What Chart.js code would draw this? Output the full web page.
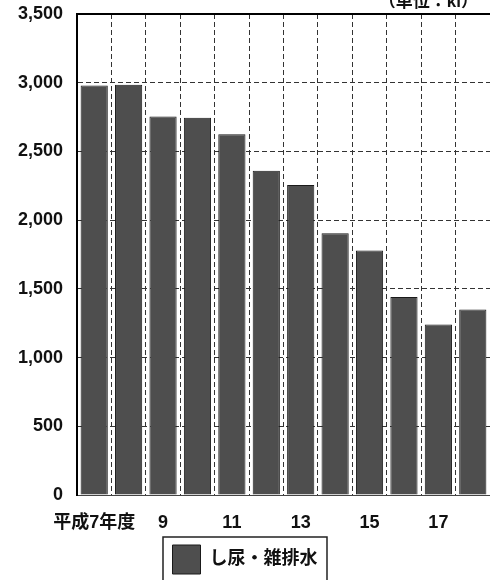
<!DOCTYPE html>
<html>
<head>
<meta charset="utf-8">
<script src="https://cdn.jsdelivr.net/npm/chart.js@4/dist/chart.umd.min.js"></script>
<style>
  html, body { margin: 0; padding: 0; background: #fff; overflow: hidden; }
  #wrap { width: 490px; height: 580px; }
</style>
</head>
<body>
<div id="wrap"><canvas id="myChart" width="490" height="580"></canvas></div>
<script>
// data
var years = ['平成7年度', '8', '9', '10', '11', '12', '13', '14', '15', '16', '17', '18'];
var volumes = [2980, 2985, 2755, 2745, 2625, 2360, 2255, 1905, 1780, 1440, 1240, 1350];
var seriesName = 'し尿・雑排水';
var unitLabel = '（単位：kl）';

var fontFamily = "'Liberation Sans', 'Noto Sans CJK JP', sans-serif";
var barColor = '#4e4e4e';

// frame line on top, unit text and a box round the legend
var extras = {
    id: 'extras',
    afterDraw: function(chart) {
        var c = chart.ctx, a = chart.chartArea;
        c.save();
        c.strokeStyle = '#000';
        c.lineWidth = 2;
        c.beginPath();
        c.moveTo(a.left, a.top);
        c.lineTo(chart.width, a.top);
        c.stroke();

        c.fillStyle = '#111';
        c.font = 'bold 17px ' + fontFamily;
        c.textAlign = 'right';
        c.textBaseline = 'alphabetic';
        c.fillText(unitLabel, 478, 7);

        var hb = chart.legend.legendHitBoxes[0];
        if (hb) {
            c.strokeStyle = '#222';
            c.lineWidth = 1.5;
            c.strokeRect(hb.left - 9.5, hb.top - 8, hb.width + 19, hb.height + 30);
        }
        c.restore();
    }
};

var ctx = document.getElementById('myChart').getContext('2d');
var myChart = new Chart(ctx, {
    type: 'bar',
    data: {
        labels: years,
        datasets: [{
            label: seriesName,
            data: volumes,
            backgroundColor: barColor,
            borderColor: '#1a1a1a',
            borderWidth: 1,
            barPercentage: 0.79,
            categoryPercentage: 1
        }]
    },
    options: {
        responsive: false,
        animation: false,
        layout: { padding: { top: 14, right: 0, bottom: -4, left: 0 } },
        plugins: {
            tooltip: { enabled: false },
            legend: {
                position: 'bottom',
                labels: {
                    boxWidth: 28,
                    boxHeight: 29,
                    padding: 8,
                    color: '#111',
                    font: { family: fontFamily, size: 18, weight: 'bold' }
                }
            }
        },
        scales: {
            x: {
                afterFit: function(scale) { scale.height = 42; },
                grid: {
                    color: '#333',
                    lineWidth: 1,
                    offset: true,
                    drawTicks: false
                },
                border: { display: true, color: '#444', width: 1, dash: [5, 3] },
                ticks: {
                    autoSkip: false,
                    maxRotation: 0,
                    padding: 17,
                    color: '#111',
                    font: { family: fontFamily, size: 18, weight: 'bold' },
                    callback: function(v, i) { return i % 2 === 0 ? years[i] : ''; }
                }
            },
            y: {
                min: 0,
                max: 3500,
                afterFit: function(scale) {
                    scale.width = 77;
                    scale.paddingTop = 0;
                    scale.paddingBottom = 0;
                },
                grid: { color: '#333', lineWidth: 1, drawTicks: false },
                border: { display: true, color: '#000', width: 2, dash: [5, 3] },
                ticks: {
                    stepSize: 500,
                    padding: 14,
                    color: '#111',
                    font: { family: fontFamily, size: 18, weight: 'bold' },
                    callback: function(v) { return v.toLocaleString('en-US'); }
                }
            }
        }
    },
    plugins: [extras]
});
</script>
</body>
</html>
